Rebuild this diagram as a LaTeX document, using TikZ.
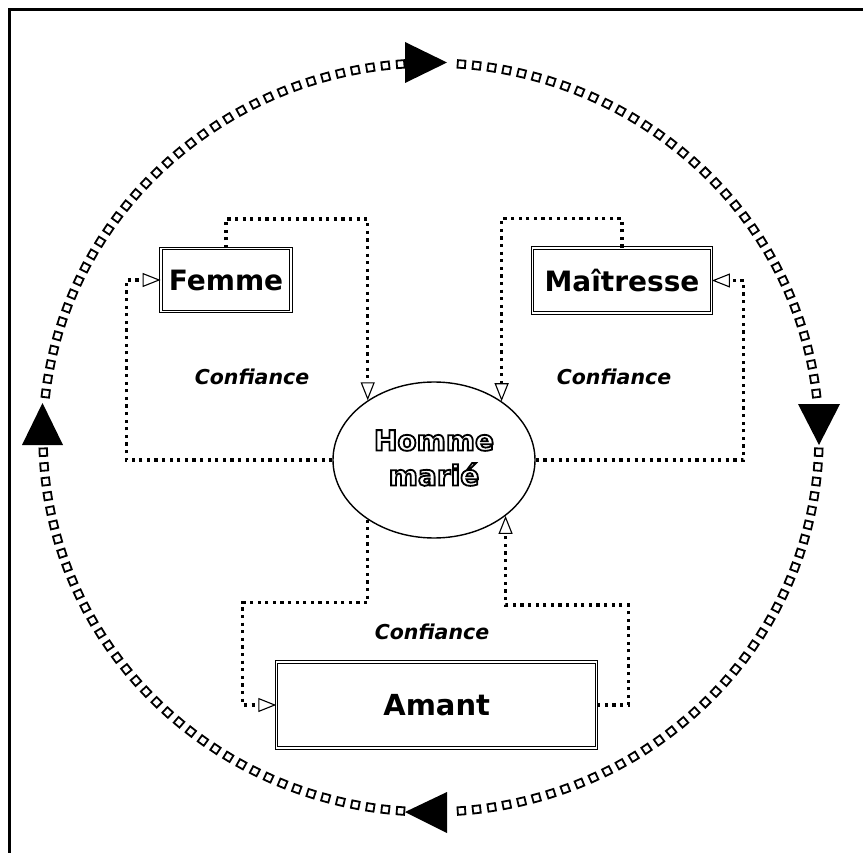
\documentclass[tikz,border=0pt]{standalone}
\usepackage{fontspec}
\setmainfont{DejaVu Sans}
\usetikzlibrary{arrows.meta,shapes.geometric,calc}
\newcommand{\outlinetext}[1]{\special{pdf:literal direct 1 Tr 1.8 w}#1\special{pdf:literal direct 0 Tr}}
\begin{document}
\begin{tikzpicture}[x=1pt,y=-1pt,
  conn/.style={line width=3.2pt, dash pattern=on 3.2pt off 4.4pt,
    -{Triangle[open,length=18pt,width=14pt,line width=1.1pt]}},
  boxs/.style={draw, double, double distance=1.4pt, line width=0.9pt, fill=white,
    inner sep=0pt, font=\fontsize{28}{33}\selectfont\bfseries},
  lbl/.style={inner sep=0pt, font=\fontsize{20.5}{24}\selectfont\bfseries\itshape},
  sq/.style={draw, line width=1.8pt, minimum size=7.5pt, inner sep=0pt, fill=white},
  bigarrow/.style={fill=black}
]
\useasboundingbox (0,0) rectangle (863,853);
\fill[white] (0,0) rectangle (863,853);
% frame
\draw[line width=3pt] (9.5,853) -- (9.5,9.5) -- (863,9.5);

% big cycle of squares
\foreach \i in {0,...,159}{
  \pgfmathsetmacro\t{\i*2.25}
  \pgfmathtruncatemacro\skipit{ (abs(\t-2)<3.6) || (abs(\t-90.7)<3.6) || (abs(\t-178)<3.6) || (abs(\t-270.7)<3.6) || (abs(\t-362)<3.6) ? 1 : 0}
  \ifnum\skipit=0
    \node[sq, rotate=\t] (sq\i) at ({431+388*cos(\t)},{437.5-374.5*sin(\t)}) {};
  \fi
}
% big arrows (clockwise)
\fill[bigarrow] (405,42) -- (447,62.5) -- (405,83) -- cycle;
\fill[bigarrow] (798,404) -- (840,404) -- (819,445) -- cycle;
\fill[bigarrow] (447,792) -- (405,812) -- (447,833) -- cycle;
\fill[bigarrow] (22,445) -- (63,445) -- (42.5,403) -- cycle;

% central ellipse
\node[ellipse, draw, line width=1.4pt, fill=white, minimum width=202pt, minimum height=156pt, inner sep=0pt] (homme) at (434,460) {};
\node[align=center, inner sep=0pt, font=\fontsize{28}{35}\selectfont\bfseries] (hmtext) at (434,458)
  {\outlinetext{Homme}\\\outlinetext{marié}};

% boxes
\node[boxs, minimum width=130pt, minimum height=63pt] (femme) at (226,280) {Femme};
\node[boxs, minimum width=179pt, minimum height=65pt] (mait) at (622,280.5) {Maîtresse};
\node[boxs, minimum width=320pt, minimum height=86pt, font=\fontsize{29}{34}\selectfont\bfseries] (amant) at (436.7,705) {Amant};

% labels
\node[lbl] (c1) at (252,377) {Confiance};
\node[lbl] (c2) at (614,377) {Confiance};
\node[lbl] (c3) at (432,632) {Confiance};

% connectors
\draw[conn] (femme.north) -- ++(0,-29) -| (homme.138.2);
\draw[conn] (homme.west) -- ++(-206,0) |- (femme.west);
\draw[conn] (mait.north) -- ++(0,-29) -| (homme.41.8);
\draw[conn] (homme.east) -- ++(208,0) |- (mait.east);
\draw[conn] (homme.-138.2) -- ++(0,83) -- ++(-125,0) |- (amant.west);
\draw[conn] (amant.east) -- ++(31,0) -- ++(0,-100) -| (homme.-38);
\end{tikzpicture}
\end{document}
